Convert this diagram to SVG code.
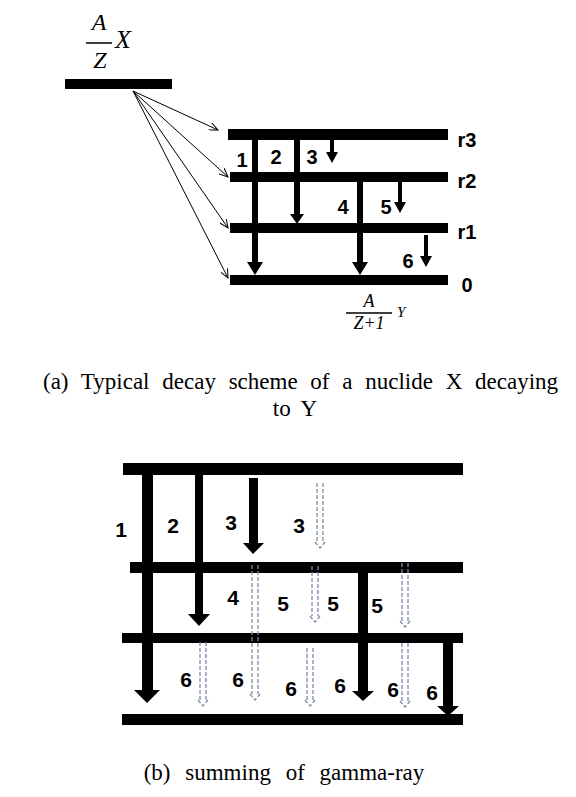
<svg xmlns="http://www.w3.org/2000/svg" width="576" height="797" viewBox="0 0 576 797">
<style>
.bar{fill:#000}
.lbl{font-family:"Liberation Sans",Arial,sans-serif;font-weight:bold;fill:#000;text-anchor:middle}
.la{font-size:20px}
.lb{font-size:21px}
.ser{font-family:"Liberation Serif","Times New Roman",serif;fill:#000}
.it{font-style:italic}
.cap{font-size:23px;word-spacing:7px}
.thin{stroke:#000;stroke-width:1;fill:none}
.dash{stroke:#7d8ba6;stroke-width:1.3;fill:none;stroke-dasharray:4 2}
</style>
<defs>
<marker id="oh" markerWidth="10" markerHeight="8" refX="9" refY="4" orient="auto" markerUnits="userSpaceOnUse">
<path d="M0,0 L9,4 L0,8" fill="none" stroke="#000" stroke-width="1"/>
</marker>
</defs>

<!-- (a) parent nuclide -->
<g id="parent">
<text class="ser it" x="99" y="30" font-size="24" text-anchor="middle">A</text>
<line x1="86" y1="43" x2="112" y2="43" stroke="#000" stroke-width="1.5"/>
<text class="ser it" x="100" y="68" font-size="24" text-anchor="middle">Z</text>
<text class="ser it" x="115" y="48" font-size="26">X</text>
<rect class="bar" x="65" y="79" width="107" height="10"/>
</g>

<g id="levels-a">
<rect class="bar" x="228" y="129" width="220" height="11"/>
<rect class="bar" x="230" y="172" width="218" height="10"/>
<rect class="bar" x="230" y="223" width="218" height="10"/>
<rect class="bar" x="230" y="275" width="218" height="10"/>
<text class="lbl la" x="467" y="147" text-anchor="start">r3</text>
<text class="lbl la" x="467" y="188" text-anchor="start">r2</text>
<text class="lbl la" x="467" y="239" text-anchor="start">r1</text>
<text class="lbl la" x="467" y="292" text-anchor="start">0</text>
</g>

<g id="daughter">
<text class="ser it" x="369" y="307" font-size="18" text-anchor="middle">A</text>
<line x1="346" y1="313" x2="392" y2="313" stroke="#000" stroke-width="1.3"/>
<text class="ser it" x="369" y="329" font-size="18" text-anchor="middle">Z+1</text>
<text class="ser it" x="397" y="317" font-size="15">Y</text>
</g>

<g id="connectors-a">
<line class="thin" x1="133" y1="91" x2="218" y2="130" marker-end="url(#oh)"/>
<line class="thin" x1="133" y1="91" x2="228" y2="177" marker-end="url(#oh)"/>
<line class="thin" x1="133" y1="91" x2="228" y2="228" marker-end="url(#oh)"/>
<line class="thin" x1="133" y1="91" x2="228" y2="278" marker-end="url(#oh)"/>
<rect class="bar" x="252" y="129" width="6" height="135"/>
<polygon class="bar" points="247,262 263,262 255,275"/>
<rect class="bar" x="294" y="129" width="6" height="86"/>
<polygon class="bar" points="290,214 304,214 297,224"/>
<rect class="bar" x="357" y="172" width="6" height="92"/>
<polygon class="bar" points="352,262 368,262 360,275"/>
<rect class="bar" x="330" y="140" width="4" height="14"/>
<polygon class="bar" points="326,152 338,152 332,163"/>
<rect class="bar" x="398" y="182" width="4" height="22"/>
<polygon class="bar" points="394,202 406,202 400,213"/>
<rect class="bar" x="424" y="235" width="4" height="23"/>
<polygon class="bar" points="420,256 432,256 426,267"/>
</g>

<g id="labels-a">
<text class="lbl la" x="242" y="167">1</text>
<text class="lbl la" x="276" y="164">2</text>
<text class="lbl la" x="312" y="164">3</text>
<text class="lbl la" x="343" y="214">4</text>
<text class="lbl la" x="386" y="214">5</text>
<text class="lbl la" x="408" y="268">6</text>
</g>

<g id="caption-a">
<text class="ser cap" x="43" y="389">(a) Typical decay scheme of a nuclide X decaying</text>
<text class="ser cap" x="295" y="416" text-anchor="middle" style="word-spacing:5px">to Y</text>
</g>

<!-- (b) -->
<g id="levels-b">
<rect class="bar" x="123" y="463" width="340" height="12"/>
<rect class="bar" x="130" y="562" width="333" height="11"/>
<rect class="bar" x="122" y="633" width="341" height="10"/>
<rect class="bar" x="122" y="714" width="341" height="11"/>
</g>

<g id="connectors-b">
<rect class="bar" x="142" y="463" width="11" height="229"/>
<polygon class="bar" points="134,690 160,690 147,703"/>
<rect class="bar" x="195" y="463" width="8" height="153"/>
<polygon class="bar" points="188,614 210,614 199,626"/>
<rect class="bar" x="249" y="478" width="9" height="67"/>
<polygon class="bar" points="243,543 264,543 253,554"/>
<rect class="bar" x="358" y="562" width="10" height="131"/>
<polygon class="bar" points="352,691 374,691 363,701"/>
<rect class="bar" x="443" y="643" width="10" height="65"/>
<polygon class="bar" points="437,706 459,706 448,716"/>
<path class="dash" d="M317,483V542M323,483V542M315,542L320,548L325,542"/>
<path class="dash" d="M252,565V694M258,565V694M250,694L255,700L260,694"/>
<path class="dash" d="M312,566V616M318,566V616M310,616L315,622L320,616"/>
<path class="dash" d="M402,563V621M408,563V621M400,621L405,627L410,621"/>
<path class="dash" d="M200,642V700M206,642V700M198,700L203,706L208,700"/>
<path class="dash" d="M307,648V700M313,648V700M305,700L310,706L315,700"/>
<path class="dash" d="M402,643V701M408,643V701M400,701L405,707L410,701"/>
</g>

<g id="labels-b">
<text class="lbl lb" x="121" y="537">1</text>
<text class="lbl lb" x="173" y="533">2</text>
<text class="lbl lb" x="231" y="530">3</text>
<text class="lbl lb" x="299" y="533">3</text>
<text class="lbl lb" x="233" y="605">4</text>
<text class="lbl lb" x="283" y="611">5</text>
<text class="lbl lb" x="333" y="611">5</text>
<text class="lbl lb" x="377" y="613">5</text>
<text class="lbl lb" x="186" y="687">6</text>
<text class="lbl lb" x="238" y="687">6</text>
<text class="lbl lb" x="291" y="696">6</text>
<text class="lbl lb" x="340" y="693">6</text>
<text class="lbl lb" x="393" y="697">6</text>
<text class="lbl lb" x="432" y="700">6</text>
</g>

<g id="caption-b">
<text class="ser cap" x="284" y="780" text-anchor="middle" style="word-spacing:9px">(b) summing of gamma-ray</text>
</g>
</svg>
